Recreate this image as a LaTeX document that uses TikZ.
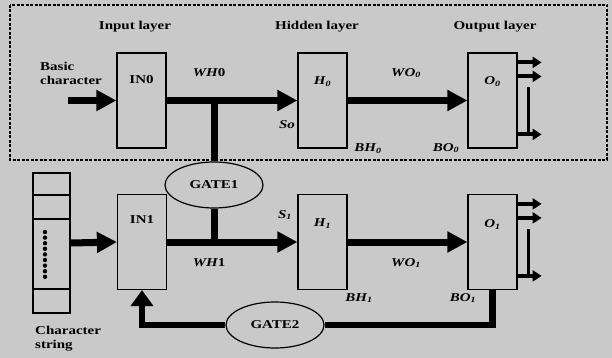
\documentclass[tikz,border=0pt]{standalone}
\usepackage{fontspec}
\setmainfont{Liberation Serif}[FakeStretch=1.25]
\usetikzlibrary{arrows.meta,positioning,calc,shapes.geometric}

\tikzset{
  unit/.style={draw,line width=1.2pt,minimum width=49pt,minimum height=95pt,inner sep=0pt},
  gate/.style={draw,ellipse,line width=1.2pt,minimum width=98pt,minimum height=46pt,inner sep=0pt,
    font=\bfseries\fontsize{12}{14}\selectfont},
  txt/.style={font=\bfseries\fontsize{12}{14}\selectfont,inner sep=0pt},
  wt/.style={font=\bfseries\itshape\fontsize{12}{14}\selectfont,inner sep=0pt},
  bigarrow/.style={line width=7pt,-{Triangle[length=20pt,width=20pt]}},
  outarrow/.style={line width=4pt,-{Triangle[length=9pt,width=11pt]}},
}

\begin{document}
\begin{tikzpicture}[x=1pt,y=-1pt]
\fill[black!21] (0,0) rectangle (612,358);
\useasboundingbox (0,0) rectangle (612,358);

% upper network (basic character)
\draw[line width=1.5pt,dash pattern=on 3pt off 1.5pt] (10,5) rectangle (607,160);

\node[txt] (lay1) at (135,27) {Input layer};
\node[txt] (lay2) at (317,27) {Hidden layer};
\node[txt] (lay3) at (495,27) {Output layer};

\node[unit] (in0) at (141.5,100.5) {};
\node[unit] (h0)  at (322.5,100.5) {};
\node[unit] (o0)  at (492.5,100.5) {};
\node[unit] (in1) at (142,242) {};
\node[unit] (h1)  at (322.5,242) {};
\node[unit] (o1)  at (492.5,242) {};

\node[gate] (gate1) at (214,185) {GATE1};
\node[gate] (gate2) at (275,325) {GATE2};

% names inside the units
\node[txt] at ([yshift=-27pt]in0.north) {IN0};
\node[wt]  at ([yshift=-29pt]h0.north) {H\textsubscript{0}};
\node[wt]  at ([yshift=-29pt]o0.north) {O\textsubscript{0}};
\node[txt] at ([yshift=-26pt]in1.north) {IN1};
\node[wt]  at ([yshift=-30pt]h1.north) {H\textsubscript{1}};
\node[wt]  at ([yshift=-31pt]o1.north) {O\textsubscript{1}};

% character string
\node[draw,line width=1.2pt,minimum width=37pt,minimum height=140pt,inner sep=0pt] (chr) at (51.5,243) {};
\foreach \yy in {195,219,289}
  \draw[line width=1.2pt] (chr.west |- 0,\yy) -- (chr.east |- 0,\yy);
\foreach \k in {0,...,8}
  \fill (45,{232+5.6*\k}) circle (2.2pt);

\node[txt,align=left,anchor=west] (basic) at (40,73) {Basic\\character};
\node[txt,align=left,anchor=west] (chrtxt) at (35,339) {Character\\string};

% weights and biases
\node[wt] at (209,73) {WH\upshape 0};
\node[wt] at (287,125) {So};
\node[wt] at (406,73) {WO\textsubscript{0}};
\node[wt] at (368,149) {BH\textsubscript{0}};
\node[wt] at (446,148) {BO\textsubscript{0}};
\node[wt] at (285,215) {S\textsubscript{1}};
\node[wt] at (209,263) {WH\upshape 1};
\node[wt] at (406,263) {WO\textsubscript{1}};
\node[wt] at (359,298) {BH\textsubscript{1}};
\node[wt] at (463,298) {BO\textsubscript{1}};

% connections
\coordinate (bin) at (68,100.5);
\draw[bigarrow] (bin) -- (in0.west);
\draw[bigarrow] (in0.east) -- (h0.west);
\draw[bigarrow] (h0.east) -- (o0.west);
\draw[bigarrow] (chr.east) -- (in1.west);
\draw[bigarrow] (in1.east) -- (h1.west);
\draw[bigarrow] (h1.east) -- (o1.west);

\draw[line width=7pt] (gate1.north |- in0.east) -- (gate1.north);
\draw[line width=7pt] (gate1.south) -- (gate1.south |- in1.east);

\draw[line width=6.5pt,line join=miter] (o1.south) |- (gate2.east);
\draw[line width=6.5pt,line join=miter,-{Triangle[length=16pt,width=22pt]}] (gate2.west) -| (in1.south);

% outputs
\foreach \u in {o0,o1} {
  \foreach \d in {10,24,82}
    \draw[outarrow] ([yshift=-\d pt]\u.north east) -- ++(24,0);
  \draw[line width=3pt] ([xshift=11pt,yshift=-35pt]\u.north east) -- ([xshift=11pt,yshift=-82pt]\u.north east);
}
\end{tikzpicture}
\end{document}
